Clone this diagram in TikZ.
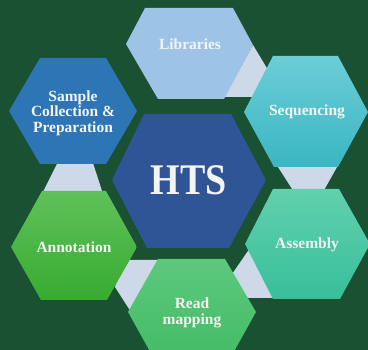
\documentclass[tikz,border=0pt]{standalone}
\usepackage{fontspec}
\setmainfont{Liberation Serif}
\definecolor{bggreen}{HTML}{1A5132}
\definecolor{conn}{HTML}{CDD8E9}
\definecolor{libblue}{HTML}{9DC3E6}
\definecolor{sampblue}{HTML}{2E75B6}
\definecolor{htsblue}{HTML}{2F5597}
\definecolor{seqtop}{HTML}{6CCDD6}
\definecolor{seqbot}{HTML}{3AB6C3}
\definecolor{asmtop}{HTML}{62D0AD}
\definecolor{asmbot}{HTML}{38BF9A}
\definecolor{anntop}{HTML}{60C15A}
\definecolor{annbot}{HTML}{37AB31}
\definecolor{readtop}{HTML}{5EC87D}
\definecolor{readbot}{HTML}{40BB64}
\definecolor{txt}{HTML}{F4F4F4}
\tikzset{
  connshape/.style={fill=conn, draw=none},
  lbl/.style={text=txt, font=\fontsize{15.5}{15.5}\selectfont\bfseries, align=center, inner sep=0pt},
}
\begin{document}
\begin{tikzpicture}[x=1pt,y=-1pt]
\fill[bggreen] (0,0) rectangle (368,350);
\useasboundingbox (0,0) rectangle (368,350);
% connectors
\fill[connshape] (253,45) -- (268,70) -- (260,97) -- (224,97) -- cycle;
\fill[connshape] (273.5,160) -- (341,160) -- (323,192) -- (294,192) -- cycle;
\fill[connshape] (250,248) -- (228,280) -- (240,298) -- (275,298) -- cycle;
\fill[connshape] (122,260) -- (160,260) -- (160,305) -- (131,312) -- (115,287) -- cycle;
\fill[connshape] (59,160) -- (92,160) -- (103,194) -- (42,194) -- cycle;
% hexagons
\fill[libblue] (145,8) -- (233,8) -- (253,45) -- (224,99) -- (158,99) -- (126,44) -- cycle;
\fill[sampblue] (40,58) -- (106,58) -- (137,111) -- (106,164) -- (40,164) -- (9,111) -- cycle;
\shade[top color=seqtop, bottom color=seqbot] (273,56) -- (338,56) -- (368,112) -- (338,167) -- (274,167) -- (244,112) -- cycle;
\fill[htsblue] (144,114) -- (231,114) -- (266,180) -- (229,248) -- (147,248) -- (112,180) -- cycle;
\shade[top color=anntop, bottom color=annbot] (42,191) -- (106,191) -- (137,247) -- (107,300) -- (41,300) -- (11,247) -- cycle;
\shade[top color=asmtop, bottom color=asmbot] (273,189) -- (339,189) -- (370,244) -- (340,299) -- (273,299) -- (245,244) -- cycle;
\shade[top color=readtop, bottom color=readbot] (158,259) -- (225,259) -- (256,312) -- (226,366) -- (158,366) -- (128,312) -- cycle;
% labels
\node[lbl] (lib) at (190,44) {Libraries};
\node[lbl] (samp) at (73,113) {Sample\\Collection \&\\Preparation};
\node[lbl] (seq) at (307,112) {Sequencing};
\node[lbl] (hts) at (189,180) {\scalebox{1}[1.15]{\fontsize{38}{38}\selectfont\bfseries HTS}};
\node[lbl] (ann) at (74,247) {Annotation};
\node[lbl] (asm) at (307,245) {Assembly};
\node[lbl] (read) at (192,313) {Read\\mapping};
\end{tikzpicture}
\end{document}
